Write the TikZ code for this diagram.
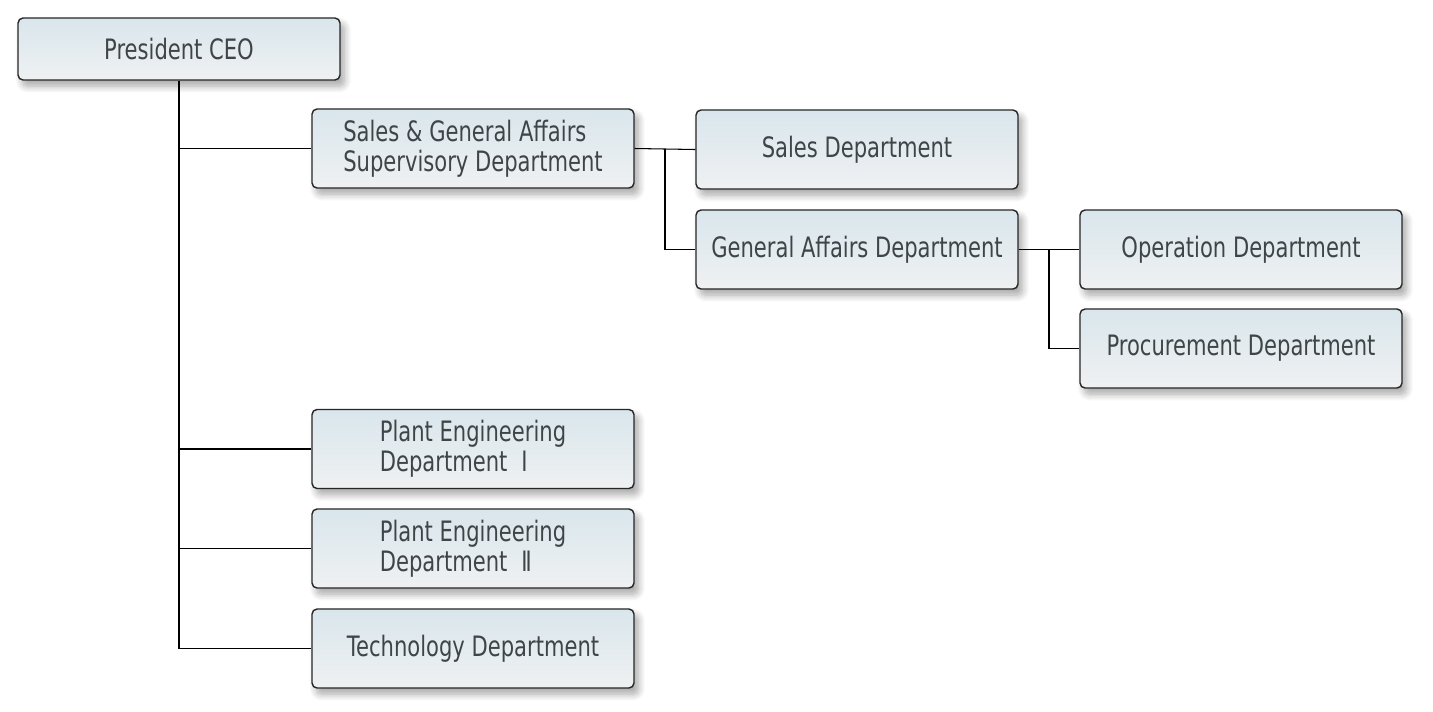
\documentclass[tikz,border=0pt]{standalone}
\usepackage{fontspec}
\setmainfont{DejaVu Sans}[FakeStretch=0.75]
\usetikzlibrary{calc,shadows.blur}
\definecolor{boxtop}{HTML}{D9E6EC}
\definecolor{boxbot}{HTML}{EFF1F2}
\definecolor{boxtext}{HTML}{3F4547}
\tikzset{
dept/.style={draw=black!85, line width=0.8pt, rounded corners=0.1cm,
  top color=boxtop, bottom color=boxbot,
  minimum width=6.44cm, minimum height=1.58cm, inner sep=0pt,
  align=left, text=boxtext, font=\fontsize{16pt}{17pt}\selectfont,
  blur shadow={shadow xshift=2.5pt, shadow yshift=-3.5pt, shadow blur steps=10, shadow blur radius=4pt, shadow opacity=35}},
head/.style={dept, minimum height=1.24cm},
link/.style={draw=black, line width=0.6pt}
}
\begin{document}
\begin{tikzpicture}[x=0.02cm,y=-0.02cm]
\useasboundingbox (0,0) rectangle (1433,711);

\node[head] (ceo) at (179,49) {President CEO};
\node[dept] (sup) at (473,148.5) {Sales \& General Affairs\\Supervisory Department};
\node[dept] (sales) at (857,149.5) {Sales Department};
\node[dept] (ga) at (857,249.5) {General Affairs Department};
\node[dept] (oper) at (1241,249.5) {Operation Department};
\node[dept] (proc) at (1241,348.5) {Procurement Department};
\node[dept] (plant1) at (473,449) {Plant Engineering\\Department\hspace{0.5em}Ⅰ};
\node[dept] (plant2) at (473,548.5) {Plant Engineering\\Department\hspace{0.5em}Ⅱ};
\node[dept] (tech) at (473,648.5) {Technology Department};

% president to the departments
\draw[link] (ceo.south) |- (tech.west);
\draw[link] (ceo.south |- sup.west) -- (sup.west);
\draw[link] (ceo.south |- plant1.west) -- (plant1.west);
\draw[link] (ceo.south |- plant2.west) -- (plant2.west);

% supervisory department
\coordinate (j1) at ($(sup.east)!0.5!(sales.west)$);
\draw[link] (sup.east) -- (sales.west);
\draw[link] (j1) |- (ga.west);

% general affairs
\coordinate (j2) at ($(ga.east)!0.5!(oper.west)$);
\draw[link] (ga.east) -- (oper.west);
\draw[link] (j2) |- (proc.west);

\end{tikzpicture}
\end{document}
